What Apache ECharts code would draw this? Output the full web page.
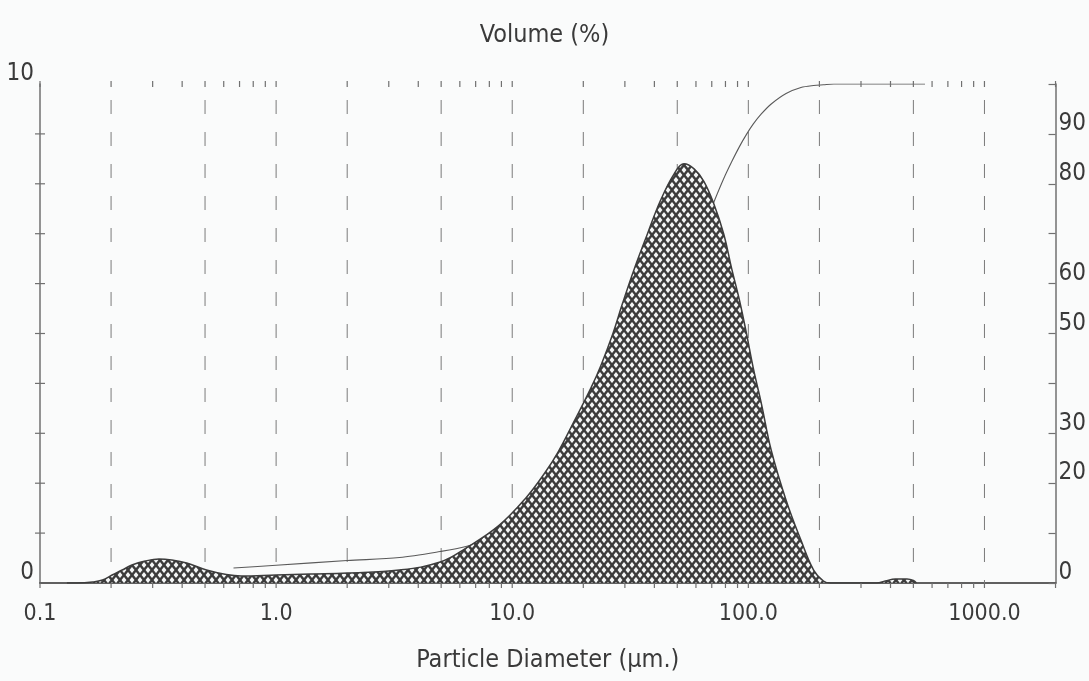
<!DOCTYPE html>
<html>
<head>
<meta charset="utf-8">
<script src="https://cdn.jsdelivr.net/npm/echarts@6/dist/echarts.min.js"></script>
<style>
html,body{margin:0;padding:0;background:#fafbfb;}
#chart{width:1089px;height:681px;}
</style>
</head>
<body>
<div id="chart"></div>
<script>
// ---- data ----
const freqDiameters = [0.13, 0.144, 0.167, 0.184, 0.202, 0.223, 0.245, 0.279, 0.319, 0.361, 0.418, 0.507, 0.615, 0.711, 1.0, 1.40, 2.0, 3.33, 4.95, 6.37, 8.77, 11.4, 13.8, 15.7, 18.1, 21.5, 23.7, 26.7, 29.3, 32.9, 37.4, 42.4, 48.5, 53.4, 58.9, 64.8, 71.4, 78.6, 85.0, 91.8, 98.2, 105, 113.5, 125, 144.5, 167, 189, 208, 223, 350, 380, 420, 470, 500, 515];
const volumeFreq = [0, 0, 0.02, 0.06, 0.16, 0.26, 0.36, 0.44, 0.48, 0.46, 0.40, 0.26, 0.17, 0.14, 0.16, 0.18, 0.20, 0.26, 0.42, 0.70, 1.15, 1.70, 2.22, 2.64, 3.2, 3.9, 4.35, 5.0, 5.6, 6.3, 7.0, 7.66, 8.2, 8.4, 8.3, 8.05, 7.6, 7.0, 6.3, 5.66, 5.0, 4.3, 3.6, 2.66, 1.66, 0.86, 0.26, 0.04, 0, 0, 0.04, 0.08, 0.08, 0.05, 0];

const cumDiameters = [0.66, 1.0, 2.0, 3.33, 4.95, 6.37, 8.77, 11.4, 13.8, 15.7, 18.1, 21.5, 23.7, 26.7, 29.3, 32.9, 37.4, 42.4, 48.5, 53.4, 58.9, 64.8, 71.4, 78.6, 85.0, 91.8, 98.2, 105, 113.5, 125, 144.5, 167, 189, 208, 230, 560];
const cumVolume = [3.0, 3.55, 4.5, 5.1, 6.3, 7.3, 9.4, 12.0, 14.5, 16.5, 19.3, 23.0, 25.6, 29.0, 32.4, 37.0, 42.4, 48.4, 55.5, 60.8, 66.1, 71.3, 76.3, 81.0, 84.4, 87.5, 89.9, 92.0, 94.0, 96.0, 98.1, 99.3, 99.7, 99.85, 100, 100];

const xLabelValues = [0.1, 1, 10, 100, 1000];
const xLabelTexts = ['0.1', '1.0', '10.0', '100.0', '1000.0'];
const xGridValues = [0.2, 0.5, 1, 2, 5, 10, 20, 50, 100, 200, 500, 1000];
const xTickValues = [0.1,0.2,0.3,0.4,0.5,0.6,0.7,0.8,0.9,1,2,3,4,5,6,7,8,9,10,20,30,40,50,60,70,80,90,100,200,300,400,500,600,700,800,900,1000,2000];
const leftTickValues = [1, 2, 3, 4, 5, 6, 7, 8, 9];
const leftLabelValues = [0, 10];
const rightLabelValues = [0, 20, 30, 50, 60, 80, 90];

const X_MIN = 0.1, X_MAX = 2000;
const FONT = '"Liberation Sans Narrow", "Arial Narrow", "DejaVu Sans Condensed", "Liberation Sans", sans-serif';
const TEXT = '#3a3a3a';
const FRAME = '#707070';

// cross-hatch pattern tile
function hatch() {
  const w = 8, h = 10;
  const c = document.createElement('canvas');
  c.width = w; c.height = h;
  const ctx = c.getContext('2d');
  ctx.fillStyle = '#f4f6f6';
  ctx.fillRect(0, 0, w, h);
  ctx.strokeStyle = '#3c3c3c';
  ctx.lineWidth = 2.4;
  for (const dx of [-w, 0, w]) {
    ctx.beginPath(); ctx.moveTo(dx, 0); ctx.lineTo(dx + w, h); ctx.stroke();
    ctx.beginPath(); ctx.moveTo(dx + w, 0); ctx.lineTo(dx, h); ctx.stroke();
  }
  return c;
}

const chart = echarts.init(document.getElementById('chart'), null, {renderer: 'canvas'});

function near(a, b) { return Math.abs(a / b - 1) < 1e-6; }

const option = {
  backgroundColor: '#fafbfb',
  animation: false,
  title: {
    text: 'Volume (%)', left: 'center', top: 18,
    textStyle: {fontFamily: FONT, fontSize: 25, fontWeight: 'normal', color: TEXT}
  },
  grid: {left: 40, right: 27, top: 84, bottom: 98, containLabel: false},
  xAxis: [
    {
      type: 'log', logBase: 10, min: X_MIN, max: X_MAX, position: 'bottom',
      name: 'Particle Diameter (µm.)', nameLocation: 'middle', nameGap: 65,
      nameTextStyle: {fontFamily: FONT, fontSize: 25, color: TEXT},
      axisLine: {show: true, lineStyle: {color: FRAME, width: 1.5}},
      axisTick: {show: false}, splitLine: {show: false}, minorTick: {show: false},
      axisLabel: {
        margin: 20, fontFamily: FONT, fontSize: 23, color: TEXT, showMinLabel: true, showMaxLabel: true,
        formatter: function (v) {
          for (let i = 0; i < xLabelValues.length; i++) if (near(v, xLabelValues[i])) return xLabelTexts[i];
          return '';
        }
      }
    },
    {
      type: 'log', logBase: 10, min: X_MIN, max: X_MAX, position: 'top',
      axisLine: {show: true, lineStyle: {color: '#606060', width: 2}},
      axisTick: {show: false}, axisLabel: {show: false}, splitLine: {show: false}
    }
  ],
  yAxis: [
    {
      type: 'value', min: 0, max: 10, interval: 1, position: 'left',
      axisLine: {show: true, lineStyle: {color: FRAME, width: 1.5}},
      axisTick: {show: false}, splitLine: {show: false},
      axisLabel: {
        margin: 6, fontFamily: FONT, fontSize: 24, color: TEXT, verticalAlign: 'bottom', lineHeight: 20,
        showMinLabel: true, showMaxLabel: true,
        formatter: function (v) { return leftLabelValues.indexOf(v) >= 0 ? String(v) : ''; }
      }
    },
    {
      type: 'value', min: 0, max: 100, interval: 10, position: 'right',
      axisLine: {show: true, lineStyle: {color: FRAME, width: 1.5}},
      axisTick: {show: true, inside: true, length: 7, lineStyle: {color: FRAME, width: 1.2}},
      splitLine: {show: false},
      axisLabel: {
        margin: 3, fontFamily: FONT, fontSize: 24, color: TEXT, verticalAlign: 'bottom', lineHeight: 20,
        showMinLabel: true, showMaxLabel: true,
        formatter: function (v) { return rightLabelValues.indexOf(v) >= 0 ? String(v) : ''; }
      }
    }
  ],
  series: [
    {
      type: 'custom', name: 'grid', xAxisIndex: 0, yAxisIndex: 0, z: 1, silent: true, clip: false,
      data: xGridValues.map(v => [v, 0]),
      renderItem: function (params, api) {
        const v = api.value(0);
        const t = api.coord([v, 10]), b = api.coord([v, 0]);
        return {type: 'line', shape: {x1: t[0], y1: t[1], x2: b[0], y2: b[1]},
          style: {stroke: '#7a7a7a', lineWidth: 1, lineDash: [14, 18], lineDashOffset: 16}};
      }
    },
    {
      type: 'line', name: 'Cumulative', xAxisIndex: 0, yAxisIndex: 1, z: 2,
      data: cumDiameters.map((d, i) => [d, cumVolume[i]]),
      smooth: 0.3, showSymbol: false, symbol: 'none',
      lineStyle: {color: '#5a5a5a', width: 1.1}
    },
    {
      type: 'line', name: 'Volume', xAxisIndex: 0, yAxisIndex: 0, z: 3,
      data: freqDiameters.map((d, i) => [d, volumeFreq[i]]),
      smooth: 0.4, showSymbol: false, symbol: 'none',
      lineStyle: {color: '#3c3c3c', width: 1.5},
      areaStyle: {color: {image: hatch(), repeat: 'repeat'}, opacity: 1}
    },
    {
      type: 'custom', name: 'xticks', xAxisIndex: 0, yAxisIndex: 0, z: 5, silent: true, clip: false,
      data: xTickValues.map(v => [v, 0]),
      renderItem: function (params, api) {
        const v = api.value(0);
        const t = api.coord([v, 10]), b = api.coord([v, 0]);
        return {type: 'group', children: [
          {type: 'line', shape: {x1: b[0], y1: b[1], x2: b[0], y2: b[1] + 5}, style: {stroke: FRAME, lineWidth: 1.2}},
          {type: 'line', shape: {x1: t[0], y1: t[1] - 3, x2: t[0], y2: t[1] + 3}, style: {stroke: FRAME, lineWidth: 1.2}}
        ]};
      }
    },
    {
      type: 'custom', name: 'yticks', xAxisIndex: 0, yAxisIndex: 0, z: 5, silent: true, clip: false,
      data: leftTickValues.map(v => [X_MIN, v]),
      renderItem: function (params, api) {
        const p = api.coord([api.value(0), api.value(1)]);
        return {type: 'line', shape: {x1: p[0] - 5, y1: p[1], x2: p[0] + 5, y2: p[1]}, style: {stroke: FRAME, lineWidth: 1.2}};
      }
    }
  ]
};
chart.setOption(option);
</script>
</body>
</html>
